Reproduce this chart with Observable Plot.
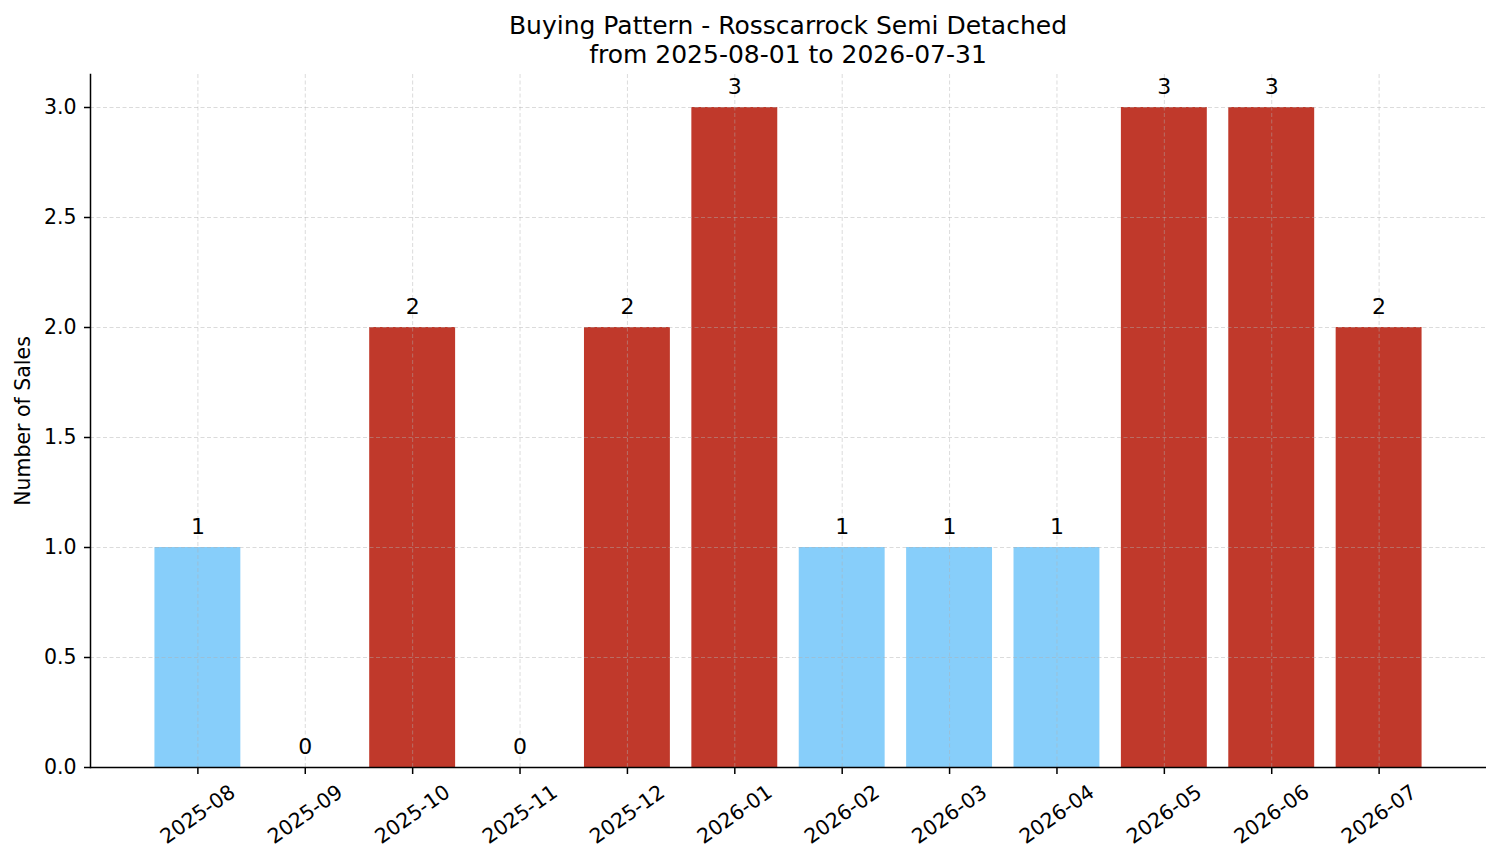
<!DOCTYPE html>
<html>
<head>
<meta charset="utf-8">
<script src="https://cdn.jsdelivr.net/npm/d3@7"></script>
<script src="https://cdn.jsdelivr.net/npm/@observablehq/plot@0.6"></script>
<style>
  html, body { margin: 0; padding: 0; background: #fff; }
  body { width: 1501px; height: 863px; overflow: hidden; font-family: "DejaVu Sans", sans-serif; }
  #title { width: 1501px; box-sizing: border-box; padding-top: 11px; padding-left: 75px; text-align: center;
           font-size: 25px; line-height: 29px; color: #000; height: 67px; }
  svg { display: block; }
</style>
</head>
<body>
<div id="title">Buying Pattern - Rosscarrock Semi Detached<br>from 2025-08-01 to 2026-07-31</div>
<div id="chart"></div>
<script>
const months = ["2025-08","2025-09","2025-10","2025-11","2025-12","2026-01","2026-02","2026-03","2026-04","2026-05","2026-06","2026-07"];
const sales = [1, 0, 2, 0, 2, 3, 1, 1, 1, 3, 3, 2];
const yTicks = [0, 0.5, 1.0, 1.5, 2.0, 2.5, 3.0];

const mean = d3.mean(sales);
const data = months.map((m, i) => ({month: m, sales: sales[i], above: sales[i] > mean}));

const gridStyle = {stroke: "#b0b0b0", strokeOpacity: 0.5, strokeWidth: 0.9, strokeDasharray: "4,2.5"};

const chart = Plot.plot({
  width: 1501,
  height: 796,
  marginLeft: 90,
  marginRight: 15,
  marginTop: 7,
  marginBottom: 96,
  style: {fontFamily: "DejaVu Sans, sans-serif", fontSize: "20.5px", color: "#000", background: "#fff"},
  x: {type: "band", domain: months, paddingInner: 0.2, paddingOuter: 0.6, round: false, label: null},
  y: {domain: [0, 3.15], label: null},
  marks: [
    Plot.barY(data, {x: "month", y: "sales", fill: d => d.above ? "#C0392B" : "#87CEFA"}),
    Plot.ruleY(yTicks, gridStyle),
    Plot.ruleX(months, gridStyle),
    Plot.axisY({ticks: yTicks, tickFormat: d3.format(".1f"), tickSize: 6, tickPadding: 8, label: null, strokeWidth: 1.5, fontSize: 20.5}),
    Plot.axisX({ticks: months, tickFormat: () => "", tickSize: 7, label: null, strokeWidth: 1.5}),
    Plot.frame({anchor: "left", stroke: "#000", strokeWidth: 1.5}),
    Plot.ruleY([0], {stroke: "#000", strokeWidth: 1.5}),
    Plot.text(months, {x: d => d, frameAnchor: "bottom", dy: 47, rotate: -35, textAnchor: "middle", lineAnchor: "middle", fontSize: 20.5, fill: "#000"}),
    Plot.text(data, {x: "month", y: "sales", text: d => String(d.sales), lineAnchor: "bottom", dy: -14, fontSize: 22, fill: "#000"}),
    Plot.text(["Number of Sales"], {frameAnchor: "left", dx: -67, rotate: -90, textAnchor: "middle", lineAnchor: "middle", fontSize: 20.5, fill: "#000"})
  ]
});
document.getElementById("chart").appendChild(chart);
</script>
</body>
</html>
